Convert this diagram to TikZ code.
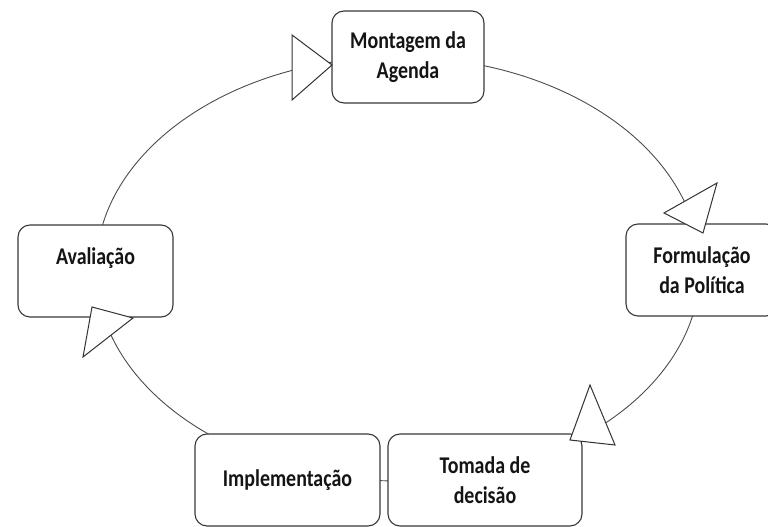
\documentclass[tikz,border=0pt]{standalone}
\usepackage{fontspec}
\setmainfont[FakeStretch=0.83]{Carlito}
\begin{document}
\begin{tikzpicture}[x=1pt,y=1pt,
  stage/.style={draw=black!78, line width=1.1pt, fill=white, rounded corners=12pt,
    minimum height=92pt, inner sep=0pt, align=center,
    font=\fontsize{24}{30}\selectfont\bfseries, text=black!92},
  cyc/.style={draw=black!70, line width=0.9pt},
  tri/.style={draw=black!80, line width=1pt, fill=white, line join=miter}]
\useasboundingbox (0,0) rectangle (768,527);
% ellipse centre
\coordinate (E) at (398,258);
% cycle connectors (elliptical arcs)
\draw[cyc] (E) ++(180:302pt and 212pt) coordinate (pW)
  arc[start angle=180, end angle=90, x radius=302pt, y radius=212pt] coordinate (pN)
  arc[start angle=90, end angle=0, x radius=302pt, y radius=212pt] coordinate (pE)
  arc[start angle=0, end angle=-90, x radius=302pt, y radius=212pt] coordinate (pS)
  arc[start angle=-90, end angle=-180, x radius=302pt, y radius=212pt];
% stages
\node[stage, minimum width=152pt] (mont) at (408,470) {Montagem da\\Agenda};
\node[stage, minimum width=152pt] (form) at (702,257) {Formulação\\da Política};
\node[stage, minimum width=194pt] (toma) at (485,47) {Tomada de\\decisão};
\node[stage, minimum width=185pt] (impl) at (287.5,47) {Implementação};
\node[stage, minimum width=155pt, text height=40pt, text depth=52pt] (aval) at (95.5,256) {Avaliação};
% arrowheads
\draw[tri] (332,462) -- (292,492) -- (292,427) -- cycle;
\draw[tri] (703,294) -- (717,344) -- (664,314) -- cycle;
\draw[tri] (570,87) -- (590,142) -- (615,82) -- cycle;
\draw[tri] (92,220) -- (133,209) -- (83,170) -- cycle;
\end{tikzpicture}
\end{document}
